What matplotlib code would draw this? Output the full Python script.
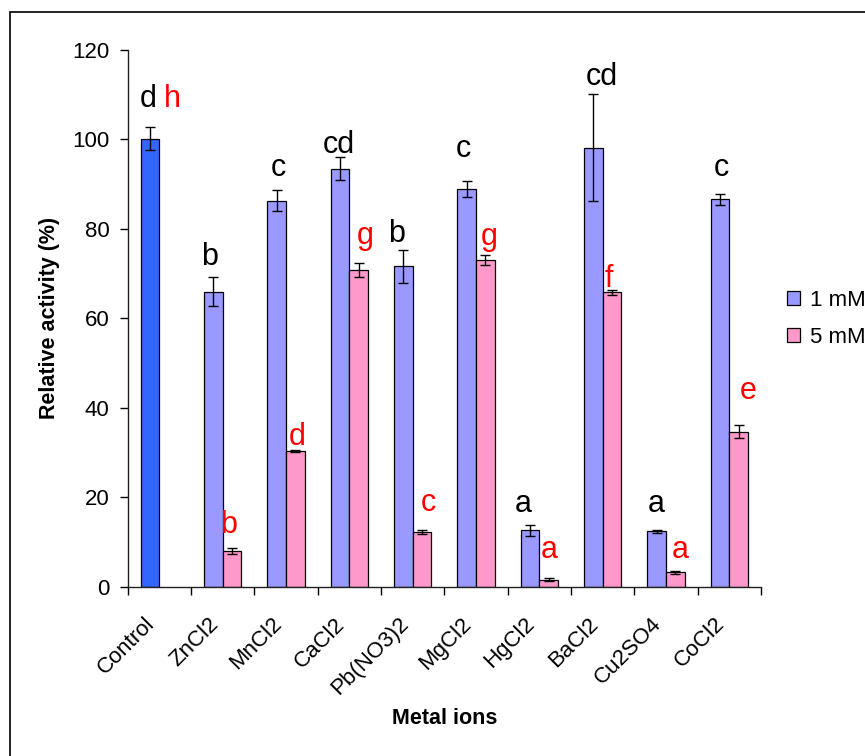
import matplotlib
matplotlib.use("Agg")
import matplotlib.pyplot as plt
import matplotlib.transforms as mtransforms
from matplotlib.patches import Rectangle, Patch
import numpy as np

plt.rcParams['font.family'] = ['Liberation Sans', 'DejaVu Sans']

# ---- data ----
categories = ["Control", "ZnCl2", "MnCl2", "CaCl2", "Pb(NO3)2", "MgCl2",
              "HgCl2", "BaCl2", "Cu2SO4", "CoCl2"]
mean_1mM = [100.2, 66.0, 86.3, 93.5, 71.6, 89.0, 12.6, 98.2, 12.4, 86.6]
err_1mM = [2.5, 3.3, 2.4, 2.6, 3.7, 1.8, 1.3, 12.0, 0.3, 1.3]
mean_5mM = [np.nan, 8.0, 30.3, 70.8, 12.2, 73.0, 1.6, 65.8, 3.2, 34.7]
err_5mM = [np.nan, 0.6, 0.2, 1.6, 0.5, 1.1, 0.4, 0.6, 0.4, 1.5]
letters_1mM = ["d", "b", "c", "cd", "b", "c", "a", "cd", "a", "c"]
letters_5mM = ["h", "b", "d", "g", "c", "g", "a", "f", "a", "e"]

# annotation placement (layout only)
lab1_y = [107.2, 71.9, 91.9, 96.9, 77.0, 96.0, 16.8, 112.2, 16.8, 91.9]
lab1_dx = [-0.18, -0.21, -0.12, -0.17, -0.25, -0.20, -0.26, -0.02, -0.15, -0.12]
lab5_y = [107.2, 11.9, 31.7, 76.6, 16.9, 76.4, 6.5, 67.1, 6.5, 41.9]
lab5_dx = [0.21, 0.09, 0.17, 0.25, 0.25, 0.21, 0.15, 0.10, 0.22, 0.29]

c1 = "#9999FF"
c5 = "#FF99CC"
c_ctrl = "#3366FF"

W, H = 865, 756
fig = plt.figure(figsize=(W / 100, H / 100), dpi=100)
ax = fig.add_axes([127.7 / W, 1 - 586.7 / H, (761 - 127.7) / W, (586.7 - 50) / H])

x = np.arange(len(categories))
bw = 0.295
cols1 = [c_ctrl] + [c1] * (len(categories) - 1)
ax.bar(x - bw / 2, mean_1mM, width=bw, color=cols1, edgecolor="black", linewidth=0.9, zorder=2)
ax.bar(x + bw / 2, mean_5mM, width=bw, color=c5, edgecolor="black", linewidth=0.9, zorder=2)
ax.errorbar(x - bw / 2, mean_1mM, yerr=err_1mM, fmt="none", ecolor="black",
            elinewidth=1.0, capsize=3.8, capthick=1.0, zorder=3)
ax.errorbar(x + bw / 2, mean_5mM, yerr=err_5mM, fmt="none", ecolor="black",
            elinewidth=1.0, capsize=3.8, capthick=1.0, zorder=3)

for i in range(len(categories)):
    ax.text(x[i] + lab1_dx[i], lab1_y[i], letters_1mM[i], ha="center", va="baseline",
            fontsize=22, color="black")
    ax.text(x[i] + lab5_dx[i], lab5_y[i], letters_5mM[i], ha="center", va="baseline",
            fontsize=22, color="#FF0000")

ax.set_xlim(-0.5, len(categories) - 0.5)
ax.set_ylim(0, 120)
ax.set_yticks(np.arange(0, 121, 20))
ax.tick_params(axis="y", direction="out", length=6, width=1, labelsize=16, pad=7)

ax.set_xticks(np.arange(-0.5, len(categories), 1.0))
ax.set_xticklabels([])
ax.tick_params(axis="x", which="major", direction="out", length=6, width=1)
ax.set_xticks(x, minor=True)
ax.set_xticklabels(categories, minor=True, rotation=45, ha="right",
                   rotation_mode="anchor", fontsize=16)
ax.tick_params(axis="x", which="minor", length=0, pad=10)
shift = mtransforms.ScaledTranslation(-15 / 100, -13 / 100, fig.dpi_scale_trans)
for lab in ax.get_xticklabels(minor=True):
    lab.set_transform(lab.get_transform() + shift)

for s in ["top", "right"]:
    ax.spines[s].set_visible(False)
for s in ["left", "bottom"]:
    ax.spines[s].set_linewidth(1.0)
    ax.spines[s].set_color("#222222")

ax.set_ylabel("Relative activity (%)", fontsize=15.5, fontweight="bold", labelpad=9)
fig.text(445 / W, 1 - 718 / H, "Metal ions", ha="center", va="center",
         fontsize=15.5, fontweight="bold")

handles = [Patch(facecolor=c1, edgecolor="black", linewidth=0.9),
           Patch(facecolor=c5, edgecolor="black", linewidth=0.9)]
fig.legend(handles, ["1 mM", "5 mM"], loc="center left",
           bbox_to_anchor=(787 / W, 1 - 319 / H), frameon=False, fontsize=16,
           handlelength=0.6, handleheight=0.6, handletextpad=0.45,
           labelspacing=0.7, borderpad=0, borderaxespad=0)

fig.patches.append(Rectangle((10 / W, -0.02), 1.1, 1 - 12 / H + 0.02,
                             transform=fig.transFigure, fill=False,
                             edgecolor="black", linewidth=1.2))

fig.savefig("out.png", dpi=100)
